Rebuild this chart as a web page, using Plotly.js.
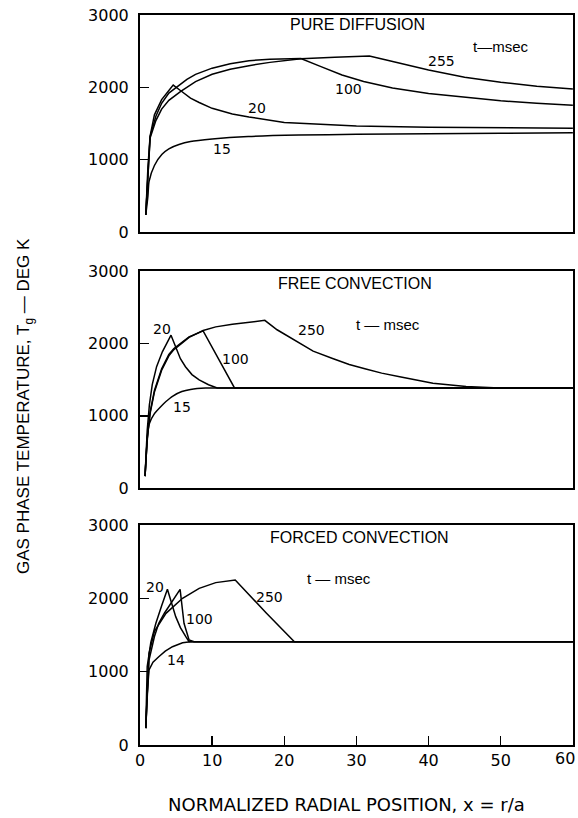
<!DOCTYPE html>
<html>
<head>
<meta charset="utf-8">
<script src="https://cdn.plot.ly/plotly-3.0.1.min.js"></script>
<style>html,body{margin:0;padding:0;background:#fff;}#chart{width:578px;height:818px;}</style>
</head>
<body>
<div id="chart"></div>
<script>
// ---- Tick labels ----
const xTickVals = [0, 10, 20, 30, 40, 50, 60];
const xTickText = ['0', '10', '20', '30', '40', '50', '60'];
const yTickVals = [0, 1000, 2000, 3000];

// ---- PURE DIFFUSION ----
const pdX15 = [0.8, 1.1, 1.25, 2, 3.05, 4, 5.4, 7, 10, 15, 22, 30, 40, 50, 60];
const pdY15 = [237, 500, 698, 920, 1074, 1150, 1209, 1250, 1285, 1320, 1340, 1350, 1360, 1366, 1372];
const pdX20 = [0.8, 1.1, 1.4, 2, 3, 4, 4.6, 5.65, 7, 8.2, 10, 12.8, 15.1, 20, 25, 30, 40, 50, 60];
const pdY20 = [237, 900, 1325, 1620, 1830, 1960, 2031, 1953, 1850, 1790, 1710, 1632, 1590, 1515, 1485, 1465, 1450, 1440, 1433];
const pdX100 = [0.8, 1.1, 1.4, 2.2, 3, 4, 5.1, 6.5, 7.7, 10, 12.5, 15.1, 18, 22.3, 25, 28, 31, 35, 40, 45, 50, 55, 60];
const pdY100 = [237, 890, 1320, 1600, 1780, 1920, 2009, 2110, 2180, 2265, 2325, 2368, 2388, 2398, 2290, 2170, 2080, 1990, 1915, 1860, 1815, 1780, 1754];
const pdX255 = [0.8, 1.1, 1.4, 2.2, 3, 4, 5.65, 7.7, 10, 12.5, 15.1, 18, 22.3, 27, 31.8, 34, 36, 40, 45, 50, 55, 60];
const pdY255 = [237, 870, 1300, 1540, 1700, 1820, 1944, 2080, 2180, 2250, 2300, 2345, 2395, 2415, 2432, 2380, 2330, 2240, 2140, 2070, 2015, 1977];

// ---- FREE CONVECTION ----
const fcX15 = [0.7, 1.0, 1.25, 2, 3, 3.6, 4.5, 5.8, 7, 9.1, 12, 60];
const fcY15 = [165, 650, 880, 1030, 1140, 1197, 1270, 1335, 1365, 1385, 1385, 1385];
const fcX20 = [0.7, 1.0, 1.3, 1.7, 2.3, 3.1, 4.3, 5, 5.6, 6.3, 7.2, 8.2, 9.5, 10.7, 60];
const fcY20 = [165, 800, 1150, 1431, 1680, 1885, 2115, 1931, 1790, 1679, 1570, 1496, 1430, 1385, 1385];
const fcX100 = [0.7, 1.0, 1.4, 2, 3, 4, 4.7, 6.8, 8.75, 13.1, 60];
const fcY100 = [165, 700, 1050, 1350, 1650, 1850, 1931, 2092, 2174, 1385, 1385];
const fcX250 = [0.7, 1.0, 1.4, 2, 3, 4, 4.7, 6.8, 8.75, 10.5, 12.8, 15, 17.3, 19, 22.1, 24, 26.7, 29, 31.3, 33.5, 36, 40.6, 45.2, 49.8, 60];
const fcY250 = [165, 680, 1030, 1330, 1630, 1830, 1915, 2085, 2180, 2230, 2265, 2295, 2321, 2190, 2000, 1895, 1793, 1710, 1647, 1590, 1541, 1449, 1404, 1385, 1385];

// ---- FORCED CONVECTION ----
const ffX14 = [0.8, 1.0, 1.25, 1.8, 2.6, 3.5, 4.5, 5.9, 7, 60];
const ffY14 = [230, 700, 1023, 1130, 1204, 1280, 1340, 1395, 1409, 1409];
const ffX20 = [0.8, 1.0, 1.5, 2.2, 3, 3.8, 4.95, 5.6, 6.35, 6.8, 60];
const ffY20 = [230, 1068, 1400, 1659, 1900, 2123, 1750, 1600, 1477, 1409, 1409];
const ffX100 = [0.8, 1.25, 2, 2.6, 3.4, 4.3, 5.0, 5.56, 6.1, 6.5, 6.8, 7.5, 60];
const ffY100 = [230, 1159, 1480, 1659, 1800, 1932, 2040, 2123, 1659, 1520, 1432, 1409, 1409];
const ffX250 = [0.8, 1.25, 2, 3.6, 5.9, 8.2, 10.5, 13.2, 17.5, 21.4, 60];
const ffY250 = [230, 1250, 1550, 1795, 2000, 2136, 2214, 2250, 1800, 1409, 1409];

const FONT = 'Liberation Sans, Arial, Helvetica, sans-serif';
const DFONT = 'DejaVu Sans, Liberation Sans, sans-serif';
function line(x, y, xa, ya) {
  return {x: x, y: y, xaxis: xa, yaxis: ya, type: 'scatter', mode: 'lines',
          line: {color: '#000', width: 1.5, shape: 'spline', smoothing: 0.6}, hoverinfo: 'skip', showlegend: false};
}
function sharp(x, y, xa, ya) {
  const t = line(x, y, xa, ya); t.line.shape = 'linear'; return t;
}
const data = [
  line(pdX15, pdY15, 'x', 'y'), sharp(pdX20, pdY20, 'x', 'y'), sharp(pdX100, pdY100, 'x', 'y'), sharp(pdX255, pdY255, 'x', 'y'),
  line(fcX15, fcY15, 'x2', 'y2'), sharp(fcX20, fcY20, 'x2', 'y2'), sharp(fcX100, fcY100, 'x2', 'y2'), sharp(fcX250, fcY250, 'x2', 'y2'),
  sharp(ffX14, ffY14, 'x3', 'y3'), sharp(ffX20, ffY20, 'x3', 'y3'), sharp(ffX100, ffY100, 'x3', 'y3'), sharp(ffX250, ffY250, 'x3', 'y3')
];

const nLab = xTickVals.length - 1; // last label drawn as an annotation so it stays inside the page
function xax(anchor, showTicks) {
  return {anchor: anchor, domain: [0, 1], range: [0, 60.02], showline: true, mirror: true, linecolor: '#000', linewidth: 2,
          showgrid: false, zeroline: false, tickvals: xTickVals.slice(0, nLab), ticktext: xTickText.slice(0, nLab),
          ticks: showTicks ? 'inside' : '', ticklen: 9, tickwidth: 1.5,
          tickcolor: '#000', showticklabels: showTicks,
          tickfont: {family: DFONT, size: 16, color: '#000'}, fixedrange: true};
}
function yax(anchor, domain) {
  return {anchor: anchor, domain: domain, range: [0, 3000], showline: true, mirror: true, linecolor: '#000', linewidth: 2,
          showgrid: false, zeroline: false, tickvals: yTickVals, ticks: 'inside', ticklen: 9, tickwidth: 1.5, tickcolor: '#000',
          ticklabelstandoff: 6, tickfont: {family: DFONT, size: 16, color: '#000'}, fixedrange: true};
}
function yov(over, anchor, domain) {
  return {overlaying: over, anchor: anchor, domain: domain, range: [0, 3000], showline: false, showgrid: false, zeroline: false,
          tickvals: [1000, 2000], ticks: 'outside', ticklen: 8, tickwidth: 1.5, tickcolor: '#000', showticklabels: false, fixedrange: true};
}
const d1 = [0.7027, 1], d2 = [0.352, 0.649], d3 = [0, 0.3014];

function lab(text, x, y, xr, yr, size, fam) {
  return {text: text, x: x, y: y, xref: xr, yref: yr, showarrow: false, xanchor: 'center', yanchor: 'middle',
          font: {family: fam || DFONT, size: size || 14, color: '#000'}};
}
const annotations = [
  lab('PURE DIFFUSION', 0.503, 0.954, 'x domain', 'y domain', 16, FONT),
  lab('FREE CONVECTION', 0.497, 0.945, 'x2 domain', 'y2 domain', 16, FONT),
  lab('FORCED CONVECTION', 0.506, 0.941, 'x3 domain', 'y3 domain', 16, FONT),
  lab('t\u2014msec', 50, 2558, 'x', 'y', 15, FONT),
  lab('t \u2014 msec', 34.4, 2257, 'x2', 'y2', 15, FONT),
  lab('t \u2014 msec', 27.6, 2277, 'x3', 'y3', 15, FONT),
  lab('15', 11.4, 1144, 'x', 'y'), lab('20', 16.25, 1709, 'x', 'y'), lab('100', 28.9, 1977, 'x', 'y'), lab('255', 41.8, 2358, 'x', 'y'),
  lab('20', 3.0, 2206, 'x2', 'y2'), lab('250', 23.8, 2188, 'x2', 'y2'), lab('100', 13.3, 1782, 'x2', 'y2'), lab('15', 5.8, 1117, 'x2', 'y2'),
  lab('20', 2.1, 2159, 'x3', 'y3'), lab('250', 18.0, 2023, 'x3', 'y3'), lab('100', 8.3, 1718, 'x3', 'y3'), lab('14', 5.0, 1159, 'x3', 'y3')
];
annotations.push({text: xTickText[nLab], x: xTickVals[nLab], y: 0, xref: 'x3', yref: 'y3 domain',
  xanchor: 'right', yanchor: 'top', xshift: 3, yshift: -3, showarrow: false, borderpad: 0,
  font: {family: DFONT, size: 16, color: '#000'}});
const L = 140, R = 5, T = 15, B = 73, W = 578, H = 818;
const PW = W - L - R, PH = H - T - B;
annotations.push({text: 'NORMALIZED RADIAL POSITION, x = r/a', x: (346 - L) / PW, y: (H - B - 804) / PH, xref: 'paper', yref: 'paper',
  showarrow: false, xanchor: 'center', yanchor: 'middle', font: {family: DFONT, size: 18, color: '#000'}});
annotations.push({text: 'GAS PHASE TEMPERATURE, T<sub>g</sub> \u2014 DEG K', x: (25 - L) / PW, y: (H - B - 406) / PH,
  xref: 'paper', yref: 'paper', showarrow: false, textangle: -90, xanchor: 'center', yanchor: 'middle',
  font: {family: FONT, size: 17, color: '#000'}});

const layout = {
  width: W, height: H, margin: {l: L, r: R, t: T, b: B}, paper_bgcolor: '#fff', plot_bgcolor: '#fff', showlegend: false,
  xaxis: xax('y', false), xaxis2: xax('y2', false), xaxis3: xax('y3', true),
  yaxis: yax('x', d1), yaxis2: yax('x2', d2), yaxis3: yax('x3', d3),
  yaxis4: yov('y', 'x', d1), yaxis5: yov('y2', 'x2', d2), yaxis6: yov('y3', 'x3', d3),
  annotations: annotations
};
Plotly.newPlot('chart', data, layout, {displayModeBar: false, staticPlot: true});
</script>
</body>
</html>
